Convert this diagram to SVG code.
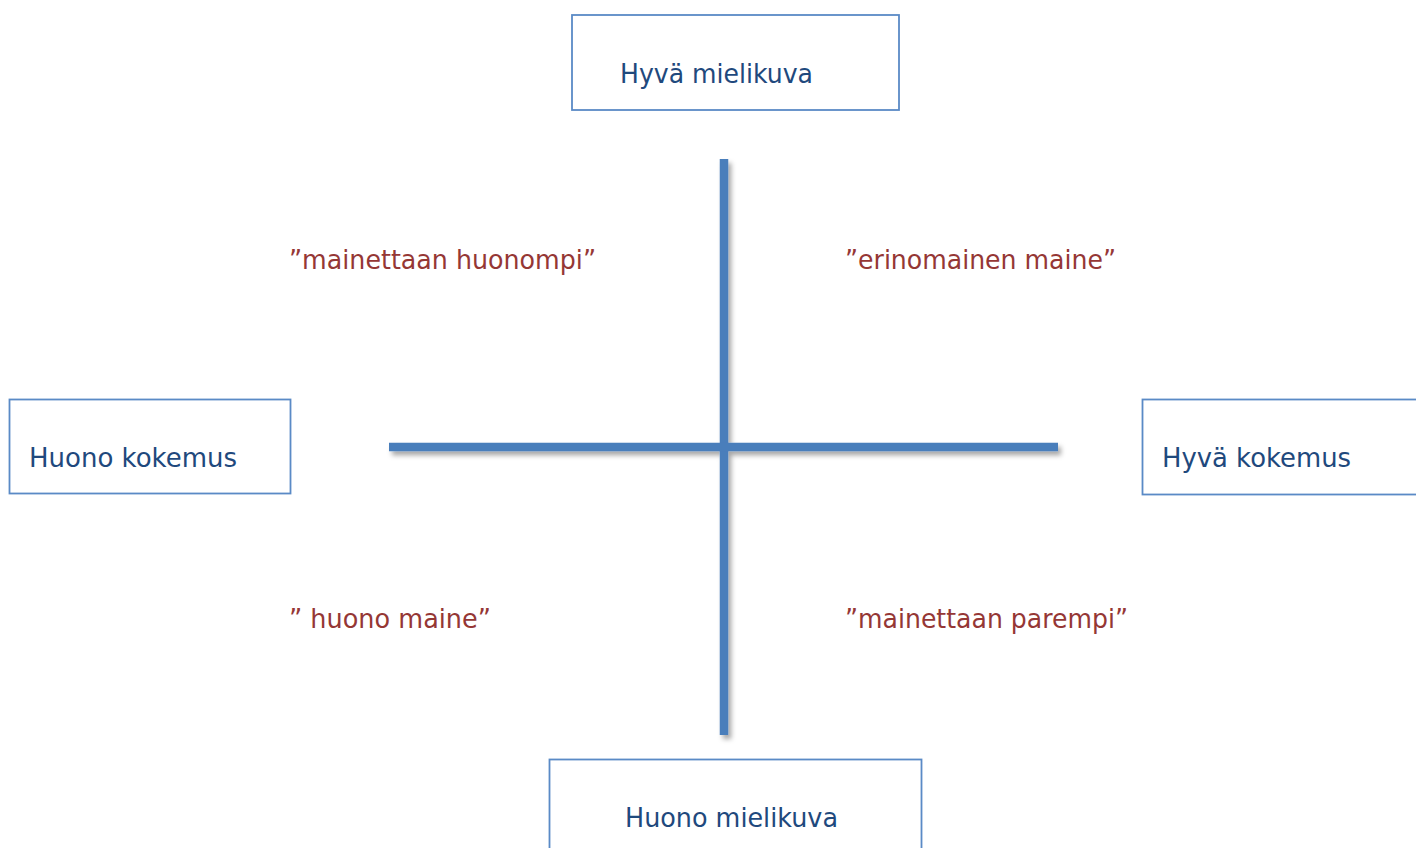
<svg xmlns="http://www.w3.org/2000/svg" width="1416" height="848" viewBox="0 0 1416 848">
<defs>
<style>
.box{fill:#fff;stroke:#5A8AC6;stroke-width:1.8}
.lbl{font-family:"DejaVu Sans","Liberation Sans",sans-serif;font-size:27px;fill:#1F497D}
.q{font-family:"DejaVu Sans","Liberation Sans",sans-serif;font-size:27px;fill:#953735}
.axis{stroke:#4A7EBB;stroke-width:8.5;fill:none}
</style>
<filter id="sh" x="-10%" y="-10%" width="130%" height="130%">
<feDropShadow dx="3" dy="4" stdDeviation="2.5" flood-color="#000" flood-opacity="0.35"/>
</filter>
</defs>
<rect width="1416" height="848" fill="#fff"/>
<g id="connectors" filter="url(#sh)">
<line class="axis" x1="724" y1="159" x2="724" y2="735"/>
<line class="axis" x1="389" y1="447" x2="1058" y2="447"/>
</g>
<g id="hyva-mielikuva">
<rect class="box" x="572" y="15" width="327" height="95"/>
<text class="lbl" x="620" y="83" textLength="193" lengthAdjust="spacingAndGlyphs">Hyvä mielikuva</text>
</g>
<g id="huono-kokemus">
<rect class="box" x="9.5" y="399.5" width="281" height="94"/>
<text class="lbl" x="29" y="467" textLength="208" lengthAdjust="spacingAndGlyphs">Huono kokemus</text>
</g>
<g id="hyva-kokemus">
<rect class="box" x="1142.5" y="399.5" width="280" height="95"/>
<text class="lbl" x="1162" y="467" textLength="189" lengthAdjust="spacingAndGlyphs">Hyvä kokemus</text>
</g>
<g id="huono-mielikuva">
<rect class="box" x="549.5" y="759.5" width="372" height="100"/>
<text class="lbl" x="625" y="827" textLength="213" lengthAdjust="spacingAndGlyphs">Huono mielikuva</text>
</g>
<g id="quadrant-labels">
<text class="q" x="289" y="269" textLength="307" lengthAdjust="spacingAndGlyphs">”mainettaan huonompi”</text>
<text class="q" x="845" y="269" textLength="271" lengthAdjust="spacingAndGlyphs">”erinomainen maine”</text>
<text class="q" x="289" y="628" textLength="202" lengthAdjust="spacingAndGlyphs">” huono maine”</text>
<text class="q" x="845" y="628" textLength="283" lengthAdjust="spacingAndGlyphs">”mainettaan parempi”</text>
</g>
</svg>
